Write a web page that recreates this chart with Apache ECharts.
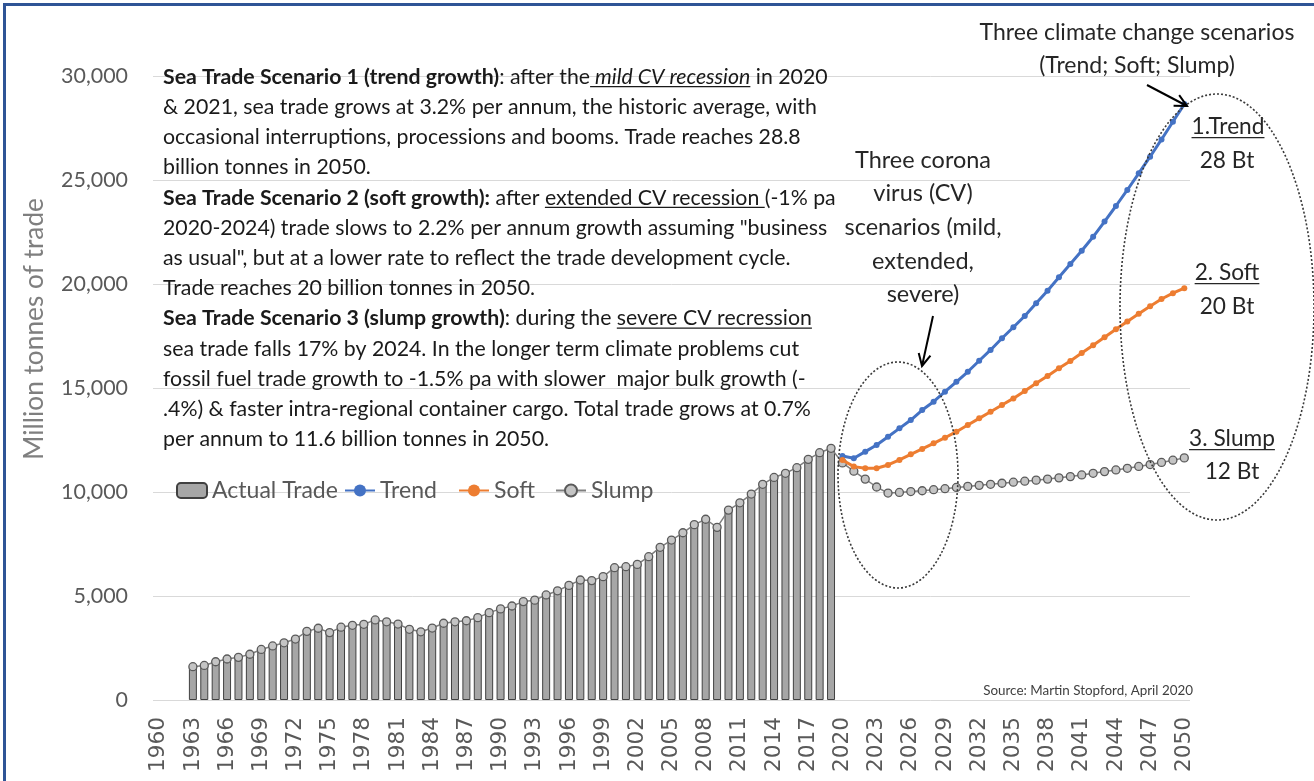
<!DOCTYPE html>
<html>
<head>
<meta charset="utf-8">
<script src="https://cdn.jsdelivr.net/npm/echarts@6.0.0/dist/echarts.min.js"></script>
<style>
html,body{margin:0;padding:0;background:#fff;}
#chart{width:1314px;height:781px;}
</style>
</head>
<body>
<div id="chart"></div>
<script>
// ---------------- DATA ----------------
const years = ['1960','1961','1962','1963','1964','1965','1966','1967','1968','1969',
'1970','1971','1972','1973','1974','1975','1976','1977','1978','1979',
'1980','1981','1982','1983','1984','1985','1986','1987','1988','1989',
'1990','1991','1992','1993','1994','1995','1996','1997','1998','1999',
'2000','2001','2002','2003','2004','2005','2006','2007','2008','2009',
'2010','2011','2012','2013','2014','2015','2016','2017','2018','2019',
'2020','2021','2022','2023','2024','2025','2026','2027','2028','2029',
'2030','2031','2032','2033','2034','2035','2036','2037','2038','2039',
'2040','2041','2042','2043','2044','2045','2046','2047','2048','2049','2050'];

const actualStartYear = '1963';
const actualTrade = [1600,1660,1840,1970,2050,2200,2430,2600,2750,2930,
3300,3450,3240,3500,3590,3640,3850,3760,3650,3400,
3280,3460,3690,3760,3810,3960,4200,4380,4520,4730,
4800,5050,5250,5510,5770,5740,5930,6360,6410,6520,
6890,7340,7690,8040,8430,8690,8300,9130,9480,9900,
10370,10700,10900,11170,11570,11890,12100];

const projStartYear = '2020';
const trendProj = [11730,11620,11940,12260,12660,13060,13460,13940,14340,14820,
15300,15780,16310,16830,17390,17920,18460,19070,19680,20320,
20960,21600,22270,23000,23750,24520,25320,26120,26950,27800,28650];
const softProj = [11540,11220,11140,11140,11300,11540,11810,12070,12340,12610,
12900,13220,13540,13860,14180,14500,14860,15230,15580,15950,
16300,16680,17060,17440,17820,18200,18570,18930,19280,19560,19800];
const slumpProj = [11400,11000,10620,10240,9950,9980,10020,10060,10110,10160,
10220,10270,10320,10370,10420,10470,10520,10570,10620,10680,
10740,10820,10900,10980,11060,11140,11230,11320,11420,11530,11640];

const yTicks = [0,5000,10000,15000,20000,25000,30000];
const legendNames = ['Actual Trade','Trend','Soft','Slump'];

// ---------------- helpers ----------------
function place(startYear, values){
  const out = years.map(()=>null);
  const s = years.indexOf(startYear);
  values.forEach((v,i)=>{ out[s+i]=v; });
  return out;
}
const barData = place(actualStartYear, actualTrade);
const trendData = place(projStartYear, trendProj);
const softData = place(projStartYear, softProj);
const slumpData = place(actualStartYear, actualTrade.concat(slumpProj));

const cv = document.createElement('canvas').getContext('2d');
function hasFont(f){
  const s='abcdefghijklmnopqrstuvwxyz0123456789';
  cv.font='40px monospace'; const a=cv.measureText(s).width;
  cv.font='40px "'+f+'", monospace'; const b=cv.measureText(s).width;
  return Math.abs(a-b)>0.5;
}
const NARROW = hasFont('Liberation Sans Narrow') ? '"Liberation Sans Narrow"' : 'Lato';
const WIDE = 'DejaVu Sans';
function tw(str,size,fam,weight,style){
  cv.font=(style||'normal')+' '+(weight||'normal')+' '+size+'px '+fam;
  return cv.measureText(str).width;
}
function fit(str,target,fam,weight){ return 20*target/tw(str,20,fam,weight); }

// ---------------- text block ----------------
const blockLines = [
 [['b','Sea Trade Scenario 1 (trend growth)'],['n',': after the'],['iu',' mild CV recession'],['n',' in 2020']],
 [['n','& 2021, sea trade grows at 3.2% per annum, the historic average, with']],
 [['n','occasional interruptions, processions and booms. Trade reaches 28.8']],
 [['n','billion tonnes in 2050.']],
 [['b','Sea Trade Scenario 2 (soft growth):'],['n',' after '],['u','extended CV recession '],['n','(-1% pa']],
 [['n','2020-2024) trade slows to 2.2% per annum growth assuming "business']],
 [['n','as usual", but at a lower rate to reflect the trade development cycle.']],
 [['n','Trade reaches 20 billion tonnes in 2050.']],
 [['b','Sea Trade Scenario 3 (slump growth)'],['n',': during the '],['u','severe CV recression']],
 [['n','sea trade falls 17% by 2024. In the longer term climate problems cut']],
 [['n','fossil fuel trade growth to -1.5% pa with slower  major bulk growth (-']],
 [['n','.4%) & faster intra-regional container cargo. Total trade grows at 0.7%']],
 [['n','per annum to 11.6 billion tonnes in 2050.']]
];
const segFont = {b:['bold','normal'], n:['normal','normal'], u:['normal','normal'], iu:['normal','italic']};
function lineWidth(line,size){
  return line.reduce((s,sg)=>s+tw(sg[1],size,NARROW,segFont[sg[0]][0],segFont[sg[0]][1]),0);
}
const blockSize = 20*665/lineWidth(blockLines[0],20);
const TXT = '#1a1a1a';
const graphics = [];
const BX = 163, BY0 = 77, BDY = 30.2;
blockLines.forEach((line,i)=>{
  const y = BY0 + i*BDY;
  const rich = {};
  Object.keys(segFont).forEach(k=>{
    rich[k] = {fontFamily:NARROW, fontSize:blockSize, fontWeight:segFont[k][0], fontStyle:segFont[k][1], color:TXT};
  });
  const str = line.map(sg=>'{'+sg[0]+'|'+sg[1]+'}').join('');
  graphics.push({type:'text', x:BX, y:y, z:50,
    style:{text:str, rich:rich, fontFamily:NARROW, fontSize:blockSize, fill:TXT, verticalAlign:'middle', align:'left'}});
  let run = 0;
  line.forEach(sg=>{
    const w = tw(sg[1],blockSize,NARROW,segFont[sg[0]][0],segFont[sg[0]][1]);
    if(sg[0]==='u'||sg[0]==='iu'){
      graphics.push({type:'line', z:50, shape:{x1:BX+run, y1:y+blockSize*0.45, x2:BX+run+w, y2:y+blockSize*0.45},
        style:{stroke:TXT, lineWidth:1.2}});
    }
    run += w;
  });
});

// ---------------- annotations ----------------
const ANN = '#262626';
const annSize = fit('Three climate change scenarios',315,NARROW,'normal');
function ctext(t,x,y,size,underline){
  graphics.push({type:'text', x:x, y:y, z:50,
    style:{text:t, fontFamily:NARROW, fontSize:size, fill:ANN, align:'center', verticalAlign:'middle'}});
  if(underline){
    const w = tw(t,size,NARROW,'normal');
    graphics.push({type:'line', z:50, shape:{x1:x-w/2, y1:y+size*0.47, x2:x+w/2, y2:y+size*0.47},
      style:{stroke:ANN, lineWidth:1.3}});
  }
}
ctext('Three climate change scenarios',1137,33,annSize);
ctext('(Trend; Soft; Slump)',1137,66,annSize);
const corSize = fit('scenarios (mild,',157,NARROW,'normal');
ctext('Three corona',923,160,corSize);
ctext('virus (CV)',923,193,corSize);
ctext('scenarios (mild,',923,227,corSize);
ctext('extended,',923,261,corSize);
ctext('severe)',923,294,corSize);
const lblSize = fit('1.Trend',73,NARROW,'normal');
ctext('1.Trend',1228,127,lblSize,true);
ctext('28 Bt',1227,161,lblSize);
ctext('2. Soft',1227,273,lblSize,true);
ctext('20 Bt',1227,307,lblSize);
ctext('3. Slump',1232,439,lblSize,true);
ctext('12 Bt',1232,472,lblSize);

// source
const srcSize = fit('Source: Martin Stopford, April 2020',210,NARROW,'normal');
graphics.push({type:'text', x:1193, y:691, z:50,
  style:{text:'Source: Martin Stopford, April 2020', fontFamily:NARROW, fontSize:srcSize, fill:'#404040', align:'right', verticalAlign:'middle'}});

// y-axis title
const ytSize = fit('Million tonnes of trade',262,NARROW,'normal');
graphics.push({type:'text', x:35, y:329, rotation:Math.PI/2, z:50,
  style:{text:'Million tonnes of trade', fontFamily:NARROW, fontSize:ytSize, fill:'#7f7f7f', align:'center', verticalAlign:'middle'}});

// ellipses
graphics.push({type:'ellipse', z:60, shape:{cx:898, cy:475, rx:60, ry:113},
  style:{fill:null, stroke:'#3a3a3a', lineWidth:1.6, lineDash:[2,2]}});
graphics.push({type:'ellipse', z:60, shape:{cx:1217, cy:307, rx:97, ry:213},
  style:{fill:null, stroke:'#3a3a3a', lineWidth:1.6, lineDash:[2,2]}});

// arrows
function arrow(x1,y1,x2,y2){
  graphics.push({type:'line', z:60, shape:{x1,y1,x2,y2}, style:{stroke:'#000', lineWidth:2}});
  const dx=x2-x1, dy=y2-y1, L=Math.hypot(dx,dy), ux=dx/L, uy=dy/L, nx=-uy, ny=ux;
  const h=12, w=6;
  graphics.push({type:'polyline', z:60, shape:{points:[[x2-h*ux+w*nx,y2-h*uy+w*ny],[x2,y2],[x2-h*ux-w*nx,y2-h*uy-w*ny]]},
    style:{stroke:'#000', lineWidth:2, fill:null}});
}
arrow(1147,85,1187,106);
arrow(933,316,922,366);

// border
graphics.push({type:'rect', z:70, shape:{x:4.5,y:4.5,width:1330,height:800},
  style:{fill:null, stroke:'#2f5496', lineWidth:3}});

// ---------------- chart ----------------
const axSize = fit('30,000',67,NARROW,'normal');
const xSize = fit('1960',55,WIDE,'normal');
const legSize = fit('Actual Trade',126,NARROW,'normal');
const legendLeft = [176,344,458,555];

const chart = echarts.init(document.getElementById('chart'), null, {renderer:'canvas'});
chart.setOption({
  backgroundColor:'#ffffff',
  animation:false,
  grid:{left:153, right:124, top:76, bottom:81, containLabel:false},
  legend: legendNames.map((n,i)=>({
    left:legendLeft[i], top:479, padding:0, itemWidth:30, itemHeight:15, itemGap:0, itemTextGap:4,
    textStyle:{fontFamily:NARROW, fontSize:legSize, color:'#595959'},
    data:[n]
  })),
  xAxis:{
    type:'category', data:years,
    axisTick:{show:false}, axisLine:{show:false},
    axisLabel:{interval:2, rotate:90, fontFamily:WIDE, fontSize:xSize, color:'#595959', margin:17}
  },
  yAxis:{
    type:'value', min:yTicks[0], max:yTicks[yTicks.length-1], interval:yTicks[1]-yTicks[0],
    axisLine:{show:false}, axisTick:{show:false},
    splitLine:{lineStyle:{color:'#d9d9d9', width:1}},
    axisLabel:{fontFamily:NARROW, fontSize:axSize, color:'#595959', margin:25,
      formatter:v=>v.toLocaleString('en-US')}
  },
  series:[
    {name:'Actual Trade', type:'bar', data:barData, barCategoryGap:'30%',
      itemStyle:{color:'#a6a6a6', borderColor:'#404040', borderWidth:1}},
    {name:'Trend', type:'line', data:trendData, symbol:'circle', symbolSize:6, showAllSymbol:true,
      itemStyle:{color:'#4472c4'}, lineStyle:{color:'#4472c4', width:3}, z:4},
    {name:'Soft', type:'line', data:softData, symbol:'circle', symbolSize:6, showAllSymbol:true,
      itemStyle:{color:'#ed7d31'}, lineStyle:{color:'#ed7d31', width:3}, z:4},
    {name:'Slump', type:'line', data:slumpData, symbol:'circle', symbolSize:8, showAllSymbol:true,
      itemStyle:{color:'#c4c4c4', borderColor:'#5a5a5a', borderWidth:1.3},
      lineStyle:{color:'#7f7f7f', width:1.5}, z:3}
  ],
  graphic:graphics
});
</script>
</body>
</html>
